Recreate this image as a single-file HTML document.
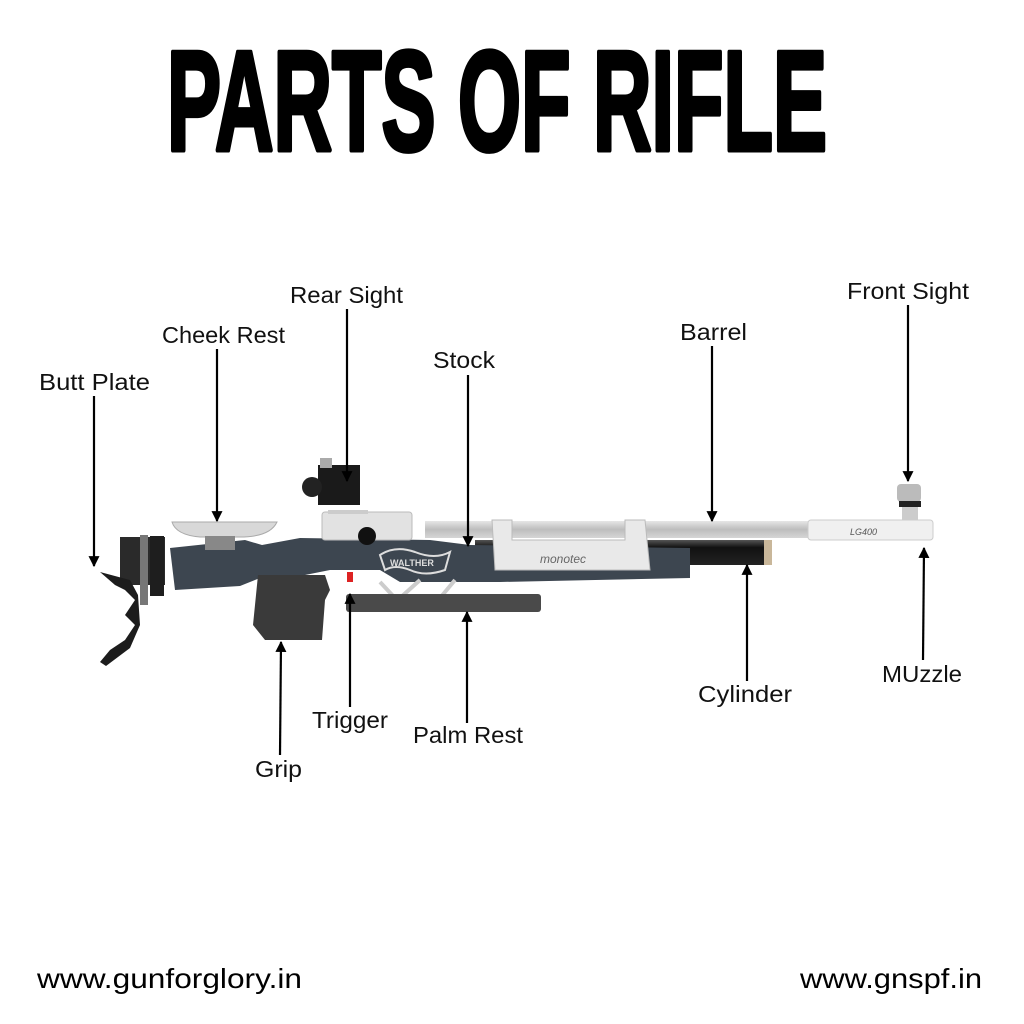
<!DOCTYPE html>
<html><head><meta charset="utf-8"><style>
html,body{margin:0;padding:0;background:#fff;width:1024px;height:1024px;overflow:hidden}
svg{display:block}
.l{font-family:"Liberation Sans",sans-serif;font-size:23px;fill:#111}
</style></head><body>
<svg width="1024" height="1024" viewBox="0 0 1024 1024" xmlns="http://www.w3.org/2000/svg">
<defs>
<marker id="ah" viewBox="0 0 10 10" refX="9" refY="5" markerWidth="5" markerHeight="5" orient="auto-start-reverse">
<path d="M0,0 L10,5 L0,10 z" fill="#000"/></marker>
<linearGradient id="bar" x1="0" y1="0" x2="0" y2="1"><stop offset="0" stop-color="#e6e6e6"/><stop offset=".5" stop-color="#bdbdbd"/><stop offset="1" stop-color="#d6d6d6"/></linearGradient>
<linearGradient id="cyl" x1="0" y1="0" x2="0" y2="1"><stop offset="0" stop-color="#555"/><stop offset=".3" stop-color="#111"/><stop offset="1" stop-color="#222"/></linearGradient>
</defs>
<text x="167" y="150" font-family="Liberation Sans,sans-serif" font-weight="bold" font-size="142" textLength="660" lengthAdjust="spacingAndGlyphs" fill="#000" stroke="#000" stroke-width="5" stroke-linejoin="round">PARTS OF RIFLE</text>

<rect x="425" y="521" width="390" height="17" fill="url(#bar)"/>
<rect x="808" y="520" width="125" height="20" rx="3" fill="#f0f0f0" stroke="#ccc"/>
<text x="850" y="535" font-family="Liberation Sans,sans-serif" font-style="italic" font-size="9" fill="#555">LG400</text>
<rect x="897" y="484" width="24" height="18" rx="4" fill="#bbb"/>
<rect x="899" y="501" width="22" height="6" fill="#222"/>
<rect x="902" y="507" width="16" height="13" fill="#ccc"/>
<rect x="475" y="540" width="292" height="25" fill="url(#cyl)"/>
<rect x="764" y="540" width="8" height="25" fill="#c9b79a"/>
<path d="M170,548 L245,540 L262,545 L300,538 L430,540 L470,545 L690,548 L690,578 L500,582 L400,582 L380,570 L330,570 L300,576 L260,578 L240,586 L175,590 Z" fill="#3d4650"/>
<rect x="322" y="512" width="90" height="28" rx="3" fill="#e2e2e2" stroke="#bbb"/>
<circle cx="367" cy="536" r="9" fill="#111"/>
<path d="M492,520 L512,520 L512,540 L625,540 L625,520 L645,520 L650,570 L495,570 Z" fill="#e9e9e9" stroke="#bbb"/>
<text x="540" y="563" font-family="Liberation Sans,sans-serif" font-style="italic" font-size="12" fill="#666">monotec</text>
<path d="M380,555 Q395,545 415,552 Q435,560 450,552 L445,570 Q425,577 410,570 Q395,564 385,570 Z" fill="none" stroke="#ddd" stroke-width="2"/>
<text x="390" y="566" font-family="Liberation Sans,sans-serif" font-weight="bold" font-size="9" fill="#ddd">WALTHER</text>
<rect x="318" y="465" width="42" height="40" fill="#1a1a1a"/>
<rect x="320" y="458" width="12" height="10" fill="#aaa"/>
<circle cx="312" cy="487" r="10" fill="#222"/>
<rect x="328" y="510" width="40" height="4" fill="#ccc"/>
<path d="M172,522 L277,522 Q270,537 240,537 L200,537 Q176,535 172,522 Z" fill="#d8d8d8" stroke="#aaa"/>
<rect x="205" y="536" width="30" height="14" fill="#888"/>
<rect x="120" y="537" width="45" height="48" fill="#2a2a2a"/>
<rect x="140" y="535" width="8" height="70" fill="#777"/>
<rect x="150" y="536" width="14" height="60" fill="#1e1e1e"/>
<path d="M100,572 L115,585 L125,590 L135,600 L125,615 L135,625 L125,640 L110,650 L100,662 L106,666 L130,648 L140,625 L138,595 L130,580 Z" fill="#1c1c1c"/>
<path d="M258,575 L325,575 L330,590 L325,600 L322,640 L265,640 L253,625 L255,605 Z" fill="#3a3a3a"/>
<rect x="347" y="572" width="6" height="10" fill="#d22"/>
<path d="M380,582 L395,598 M420,580 L400,598 M455,580 L440,598" stroke="#ccc" stroke-width="4"/>
<rect x="346" y="594" width="195" height="18" rx="3" fill="#4a4a4a"/>

<g stroke="#000" stroke-width="2.2" fill="none" marker-end="url(#ah)">
<line x1="94" y1="396" x2="94" y2="566"/>
<line x1="217" y1="349" x2="217" y2="521"/>
<line x1="347" y1="309" x2="347" y2="481"/>
<line x1="468" y1="375" x2="468" y2="546"/>
<line x1="712" y1="346" x2="712" y2="521"/>
<line x1="908" y1="305" x2="908" y2="481"/>
<line x1="280" y1="755" x2="281" y2="642"/>
<line x1="350" y1="707" x2="350" y2="594"/>
<line x1="467" y1="723" x2="467" y2="612"/>
<line x1="747" y1="681" x2="747" y2="565"/>
<line x1="923" y1="660" x2="924" y2="548"/>
</g>

<g lengthAdjust="spacingAndGlyphs">
<text class="l" x="290" y="303" textLength="113" lengthAdjust="spacingAndGlyphs">Rear Sight</text>
<text class="l" x="162" y="343" textLength="123" lengthAdjust="spacingAndGlyphs">Cheek Rest</text>
<text class="l" x="39" y="390" textLength="111" lengthAdjust="spacingAndGlyphs">Butt Plate</text>
<text class="l" x="433" y="368" textLength="62" lengthAdjust="spacingAndGlyphs">Stock</text>
<text class="l" x="680" y="340" textLength="67" lengthAdjust="spacingAndGlyphs">Barrel</text>
<text class="l" x="847" y="299" textLength="122" lengthAdjust="spacingAndGlyphs">Front Sight</text>
<text class="l" x="255" y="777" textLength="47" lengthAdjust="spacingAndGlyphs">Grip</text>
<text class="l" x="312" y="728" textLength="76" lengthAdjust="spacingAndGlyphs">Trigger</text>
<text class="l" x="413" y="743" textLength="110" lengthAdjust="spacingAndGlyphs">Palm Rest</text>
<text class="l" x="698" y="702" textLength="94" lengthAdjust="spacingAndGlyphs">Cylinder</text>
<text class="l" x="882" y="682" textLength="80" lengthAdjust="spacingAndGlyphs">MUzzle</text>
</g>

<text x="37" y="988" font-family="Liberation Sans,sans-serif" font-size="28" textLength="265" lengthAdjust="spacingAndGlyphs" fill="#000">www.gunforglory.in</text>
<text x="800" y="988" font-family="Liberation Sans,sans-serif" font-size="28" textLength="182" lengthAdjust="spacingAndGlyphs" fill="#000">www.gnspf.in</text>
</svg>
</body></html>
